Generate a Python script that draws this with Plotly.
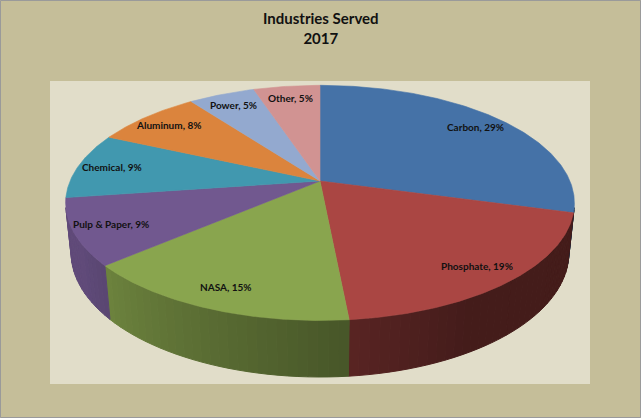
import numpy as np
import plotly.graph_objects as go

# ---------------- data ----------------
categories = ["Carbon", "Phosphate", "NASA", "Pulp & Paper", "Chemical", "Aluminum", "Power", "Other"]
values = [29, 19, 15, 9, 9, 8, 5, 5]
colors = ["#4572A7", "#AA4643", "#89A54E", "#71588F", "#4198AF", "#DB843D", "#93A9CF", "#D19392"]
title_lines = ["Industries Served", "2017"]

# ---------------- style / view ----------------
W, H = 641, 418
ELEV = np.radians(27)     # camera elevation
DIST = 4.785              # camera distance (in pie radii)
SCALE = 1196              # projection scale (px)
CX, CY = 320, 181         # pie centre on the page (px)
THICK = 0.2255            # pie thickness (in radii)
LABEL_R = 0.86            # label radius fraction
FONT = "Lato"


def proj(theta, z):
    """Perspective projection of a point on the pie (theta clockwise from 12 o'clock)."""
    X = np.sin(theta)
    Y = np.cos(theta)
    c, s = np.cos(ELEV), np.sin(ELEV)
    depth = DIST + Y * c - z * s
    up = Y * s + z * c
    return CX + SCALE * X / depth, CY - SCALE * up / depth


def shade(hexcol, f):
    h = hexcol.lstrip("#")
    r, g, b = (int(h[i:i + 2], 16) for i in (0, 2, 4))
    return "rgb(%d,%d,%d)" % (r * f, g * f, b * f)


def side_shade(theta):
    deg = np.degrees(theta)
    return 0.40 + 0.45 * np.clip((deg - 150) / 90, 0, 1)


total = sum(values)
bounds = np.concatenate([[0], np.cumsum(values)]) / total * 2 * np.pi

fig = go.Figure()

# ---- visible side wall (front-facing part of the cylinder) ----
vis_lo = np.arccos(-1 / (DIST * np.cos(ELEV))) - 0.01
vis_hi = 2 * np.pi - vis_lo
step = np.radians(2)
for i, col in enumerate(colors):
    a0 = max(bounds[i], vis_lo)
    a1 = min(bounds[i + 1], vis_hi)
    if a1 <= a0:
        continue
    n = int(np.ceil((a1 - a0) / step))
    edges = np.linspace(a0, a1, n + 1)
    for t0, t1 in zip(edges[:-1], edges[1:]):
        ts = np.linspace(t0, t1, 4)
        xt, yt = proj(ts, 0.0)
        xb, yb = proj(ts[::-1], -THICK)
        xs = np.concatenate([xt, xb, xt[:1]])
        ys = np.concatenate([yt, yb, yt[:1]])
        fc = shade(col, side_shade((t0 + t1) / 2))
        fig.add_trace(go.Scatter(x=xs, y=ys, mode="lines", fill="toself",
                                 fillcolor=fc, line=dict(color=fc, width=1),
                                 hoverinfo="skip", showlegend=False))

# ---- top faces ----
for i, col in enumerate(colors):
    ts = np.linspace(bounds[i], bounds[i + 1], max(8, int(np.degrees(bounds[i + 1] - bounds[i]) * 2)))
    xa, ya = proj(ts, 0.0)
    cx0, cy0 = proj(0.0, 0.0)[0], CY
    xs = np.concatenate([[CX], xa, [CX]])
    ys = np.concatenate([[CY], ya, [CY]])
    fig.add_trace(go.Scatter(x=xs, y=ys, mode="lines", fill="toself",
                             fillcolor=col, line=dict(color=col, width=0.6),
                             hoverinfo="skip", showlegend=False))

# ---- data labels ----
annotations = []
for i, (name, v) in enumerate(zip(categories, values)):
    mid = (bounds[i] + bounds[i + 1]) / 2
    c, s = np.cos(ELEV), np.sin(ELEV)
    X = LABEL_R * np.sin(mid)
    Y = LABEL_R * np.cos(mid)
    depth = DIST + Y * c
    lx = CX + SCALE * X / depth
    ly = CY - SCALE * (Y * s) / depth
    annotations.append(dict(x=lx, y=ly, xref="x", yref="y", showarrow=False,
                            text="<b>%s, %d%%</b>" % (name, v),
                            font=dict(family=FONT, size=10, color="#111111")))

annotations.append(dict(x=W / 2, y=27.5, xref="x", yref="y", showarrow=False,
                        text="<b>" + "<br>".join(title_lines) + "</b>",
                        font=dict(family=FONT, size=15, color="#111111")))

fig.update_layout(
    width=W, height=H,
    margin=dict(l=0, r=0, t=0, b=0),
    paper_bgcolor="#C5BE99",
    plot_bgcolor="#C5BE99",
    xaxis=dict(range=[0, W], visible=False, fixedrange=True),
    yaxis=dict(range=[H, 0], visible=False, fixedrange=True),
    shapes=[
        dict(type="rect", xref="x", yref="y", x0=50, y0=81, x1=590, y1=384,
             fillcolor="#E1DDC9", line=dict(width=0), layer="below"),
        dict(type="rect", xref="x", yref="y", x0=0.5, y0=0.5, x1=W - 0.5, y1=H - 0.5,
             fillcolor="rgba(0,0,0,0)", line=dict(color="#9A9A9A", width=1), layer="above"),
    ],
    annotations=annotations,
    showlegend=False,
)

fig.write_html("out.html", config={"displayModeBar": False, "staticPlot": True},
               post_script="document.body.style.margin='0';")
